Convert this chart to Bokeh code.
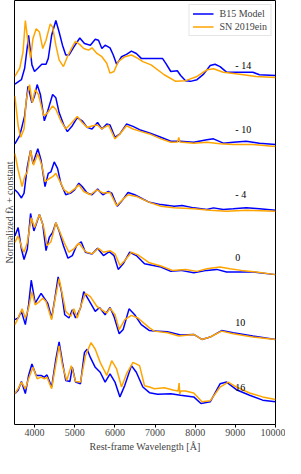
from bokeh.plotting import figure
from bokeh.models import Range1d, FixedTicker, Legend, LegendItem, ColumnDataSource
from bokeh.core.properties import value
from bokeh.embed import file_html
from bokeh.resources import INLINE

# ---------------- data (wavelength [A], normalized flux + constant) ----------------
epoch_labels = ["- 14", "- 10", "- 4", "0", "10", "16"]
label_wl = [9000, 9000, 9000, 9000, 9000, 9000]
label_y = [36.6, 30.1, 23.5, 17.1, 10.5, 4.0]

# epoch -14
m14_model_wl = [3510, 3672, 3753, 3819, 3851, 3934, 3998, 4081, 4179, 4285, 4341, 4425, 4530, 4611, 4695, 4776, 4856, 4979, 5126, 5242, 5389, 5511, 5592, 5676, 5757, 5879, 5960, 6043, 6166, 6289, 6412, 6534, 6657, 6902, 7185, 7268, 7393, 7555, 7638, 7760, 7883, 8045, 8210, 8374, 8495, 8619, 8781, 9110, 9436, 9600, 10000]
m14_model_fl = [34.73, 35.17, 36.33, 38.5, 39.67, 36.67, 36.0, 36.33, 36.73, 36.73, 37.33, 39.67, 41.17, 40.0, 38.67, 37.67, 37.67, 38.5, 39.4, 38.83, 38.67, 39.27, 39.17, 38.33, 38.67, 38.4, 37.67, 36.73, 37.5, 37.73, 38.07, 37.83, 37.33, 37.33, 37.33, 36.83, 36.0, 36.07, 35.6, 35.07, 35.0, 35.17, 35.73, 36.6, 36.73, 36.5, 35.93, 35.93, 35.93, 35.67, 35.6]
m14_sn_wl = [3510, 3630, 3713, 3770, 3836, 3900, 3959, 4040, 4121, 4204, 4285, 4390, 4449, 4530, 4611, 4719, 4817, 4940, 5021, 5143, 5224, 5347, 5430, 5553, 5676, 5798, 5879, 5977, 6083, 6247, 6412, 6574, 6696, 6902, 7228, 7515, 7760, 8045, 8291, 8455, 8700, 9110, 9517, 10000]
m14_sn_fl = [35.5, 36.33, 38.0, 41.17, 39.0, 37.33, 39.33, 40.33, 40.0, 38.33, 39.17, 40.83, 40.5, 38.67, 37.17, 36.5, 37.5, 38.5, 39.07, 38.67, 38.33, 38.17, 38.4, 37.83, 37.5, 36.83, 35.83, 36.0, 37.0, 37.5, 37.67, 37.33, 37.0, 36.67, 35.67, 35.0, 35.07, 35.5, 36.17, 36.27, 35.93, 35.73, 35.5, 35.4]

# epoch -10
m10_model_wl = [3510, 3630, 3753, 3836, 3934, 3998, 4064, 4145, 4243, 4327, 4449, 4530, 4611, 4734, 4817, 4940, 5063, 5185, 5308, 5430, 5568, 5676, 5798, 5879, 6002, 6125, 6289, 6451, 6615, 6861, 7146, 7393, 7638, 7964, 8291, 8455, 8700, 8946, 9272, 9600, 10000]
m10_model_fl = [28.67, 29.5, 31.5, 34.5, 32.83, 33.5, 34.67, 33.67, 31.0, 32.0, 33.67, 33.33, 31.83, 30.5, 29.9, 30.5, 31.33, 31.0, 30.33, 30.17, 30.83, 30.17, 30.67, 30.57, 29.33, 29.67, 30.67, 30.43, 30.1, 29.77, 29.33, 28.93, 28.93, 28.83, 29.07, 29.17, 28.73, 28.83, 28.93, 28.73, 28.6]
m10_sn_wl = [3510, 3591, 3655, 3738, 3794, 3875, 3942, 4015, 4096, 4229, 4327, 4449, 4530, 4653, 4776, 4898, 5063, 5185, 5308, 5455, 5568, 5676, 5838, 6002, 6125, 6289, 6451, 6657, 6861, 7146, 7393, 7560, 7590, 7620, 7964, 8291, 8619, 8946, 9436, 10000]
m10_sn_fl = [33.5, 30.5, 29.33, 30.17, 33.17, 34.67, 32.83, 34.17, 33.67, 31.5, 31.83, 32.5, 32.17, 31.0, 30.17, 30.67, 31.43, 30.83, 30.33, 30.5, 30.57, 30.17, 30.57, 29.17, 29.67, 30.5, 30.17, 29.9, 29.67, 29.17, 28.83, 28.85, 29.3, 28.85, 28.73, 28.83, 28.67, 28.6, 28.6, 28.4]

# epoch -4
m4_model_wl = [3510, 3591, 3672, 3738, 3819, 3900, 3959, 4081, 4162, 4260, 4341, 4408, 4489, 4572, 4653, 4776, 4898, 4996, 5102, 5185, 5308, 5430, 5568, 5700, 5838, 5921, 6058, 6166, 6328, 6493, 6696, 6861, 7146, 7474, 7677, 7964, 8291, 8455, 8700, 8946, 9272, 9600, 10000]
m4_model_fl = [24.0, 23.67, 23.17, 23.67, 26.33, 28.0, 26.67, 28.17, 27.0, 24.33, 25.67, 25.83, 26.83, 26.17, 24.67, 23.5, 23.67, 24.0, 24.67, 24.33, 23.67, 23.5, 24.07, 23.5, 23.83, 23.67, 22.33, 22.83, 23.73, 23.5, 23.07, 22.73, 22.5, 22.33, 22.4, 22.17, 22.0, 22.17, 22.0, 22.07, 22.17, 22.07, 21.93]
m4_sn_wl = [3510, 3591, 3689, 3753, 3819, 3900, 3973, 4081, 4179, 4260, 4341, 4449, 4530, 4636, 4734, 4856, 5021, 5102, 5224, 5389, 5553, 5715, 5879, 6043, 6191, 6328, 6534, 6861, 7146, 7474, 7964, 8374, 8781, 9272, 10000]
m4_sn_fl = [27.67, 26.0, 24.33, 25.33, 25.83, 28.0, 26.5, 27.67, 26.5, 24.83, 25.07, 25.33, 25.67, 24.83, 24.0, 23.67, 24.17, 24.5, 23.83, 23.5, 24.0, 23.67, 23.73, 22.4, 23.0, 23.5, 23.33, 22.73, 22.33, 22.17, 22.07, 21.93, 21.83, 21.93, 21.83]

# epoch 0
p0_model_wl = [3510, 3591, 3672, 3738, 3819, 3900, 3983, 4121, 4204, 4285, 4366, 4449, 4530, 4611, 4719, 4832, 4940, 5045, 5161, 5266, 5430, 5568, 5715, 5862, 5977, 6083, 6206, 6370, 6534, 6738, 7146, 7393, 7638, 7964, 8291, 8535, 8781, 9110, 9436, 10000]
p0_model_fl = [19.33, 20.17, 18.0, 16.93, 18.0, 21.6, 19.83, 21.5, 20.5, 17.83, 19.17, 19.67, 20.67, 19.83, 18.33, 17.07, 17.33, 18.33, 18.73, 17.67, 17.5, 18.07, 17.33, 17.73, 17.33, 15.93, 16.5, 17.67, 17.33, 16.5, 16.17, 15.73, 15.83, 15.6, 15.83, 15.93, 15.67, 15.67, 15.67, 15.4]
p0_sn_wl = [3510, 3591, 3689, 3738, 3819, 3917, 3998, 4121, 4229, 4309, 4408, 4530, 4636, 4734, 4856, 4979, 5102, 5266, 5430, 5592, 5715, 5879, 6002, 6125, 6247, 6412, 6574, 6861, 7146, 7432, 7760, 8045, 8291, 8619, 8864, 9149, 9517, 10000]
p0_sn_fl = [18.67, 19.33, 18.07, 17.67, 18.67, 21.17, 20.17, 21.5, 20.17, 18.33, 18.73, 20.67, 19.67, 18.67, 17.67, 18.0, 18.6, 17.73, 17.5, 18.07, 17.67, 17.83, 17.5, 16.33, 16.83, 17.67, 17.4, 16.6, 16.27, 15.83, 15.93, 15.73, 16.0, 16.17, 16.0, 15.83, 15.67, 15.4]

# epoch +10
p10_model_wl = [3510, 3591, 3672, 3770, 3851, 3917, 4015, 4162, 4243, 4327, 4425, 4506, 4587, 4670, 4751, 4856, 4940, 5021, 5143, 5224, 5347, 5511, 5617, 5757, 5879, 5977, 6107, 6206, 6353, 6493, 6657, 6861, 6983, 7309, 7638, 7964, 8168, 8374, 8658, 8946, 9436, 10000]
p10_model_fl = [10.83, 11.0, 11.67, 10.33, 12.33, 14.83, 12.5, 13.5, 13.0, 12.5, 11.0, 13.0, 15.17, 13.67, 11.33, 11.0, 11.83, 11.0, 12.0, 13.67, 12.83, 11.67, 12.07, 11.33, 12.07, 11.17, 9.4, 9.83, 11.93, 11.33, 10.33, 9.73, 9.67, 9.6, 9.27, 9.33, 8.83, 9.07, 9.73, 9.5, 9.17, 8.83]
p10_sn_wl = [3510, 3591, 3689, 3770, 3851, 3934, 4015, 4121, 4204, 4285, 4425, 4506, 4611, 4695, 4776, 4898, 4979, 5063, 5161, 5266, 5389, 5553, 5676, 5798, 5879, 6002, 6107, 6247, 6412, 6574, 6861, 6983, 7309, 7596, 7964, 8168, 8374, 8658, 8946, 9436, 10000]
p10_sn_fl = [10.33, 11.0, 11.93, 11.0, 12.0, 13.67, 12.33, 12.67, 13.0, 12.67, 10.83, 12.83, 15.0, 13.33, 11.67, 11.17, 11.93, 11.0, 12.33, 13.5, 13.17, 12.17, 11.83, 11.5, 12.0, 11.33, 9.83, 10.83, 11.27, 11.0, 10.0, 9.67, 9.5, 9.17, 9.33, 8.83, 9.07, 9.67, 9.4, 9.07, 8.83]

# epoch +16
p16_model_wl = [3510, 3591, 3672, 3770, 3851, 3934, 4040, 4162, 4243, 4309, 4425, 4530, 4611, 4695, 4776, 4881, 4940, 5021, 5143, 5242, 5308, 5389, 5511, 5634, 5757, 5879, 6002, 6125, 6247, 6412, 6534, 6696, 6861, 7064, 7393, 7638, 7964, 8143, 8374, 8619, 8781, 9027, 9355, 9681, 10000]
p16_model_fl = [3.33, 3.67, 4.57, 3.33, 5.17, 6.33, 5.17, 5.17, 5.0, 5.23, 4.0, 6.83, 8.57, 6.5, 4.67, 4.57, 6.0, 4.5, 4.33, 7.5, 7.83, 7.0, 6.0, 5.5, 4.5, 5.33, 4.5, 3.0, 4.17, 6.17, 5.5, 4.0, 3.43, 3.27, 3.33, 3.17, 3.0, 2.33, 2.5, 4.33, 4.5, 3.73, 3.17, 2.67, 2.5]
p16_sn_wl = [3510, 3591, 3672, 3770, 3851, 3959, 4064, 4162, 4243, 4309, 4425, 4530, 4611, 4695, 4800, 4915, 5021, 5143, 5266, 5406, 5511, 5634, 5798, 5921, 6043, 6166, 6289, 6451, 6615, 6738, 6861, 6983, 7228, 7474, 7575, 7600, 7615, 7640, 7760, 7964, 8168, 8374, 8619, 8823, 9027, 9355, 9681, 10000]
p16_sn_fl = [3.33, 3.83, 4.5, 3.83, 4.83, 6.0, 4.83, 5.0, 4.83, 5.0, 3.83, 6.33, 8.17, 6.17, 4.67, 6.17, 4.57, 4.5, 7.17, 8.5, 7.83, 6.5, 5.17, 6.67, 5.83, 4.0, 5.33, 6.5, 6.17, 4.13, 4.0, 3.83, 3.93, 3.67, 3.6, 4.4, 3.3, 3.6, 3.6, 3.4, 2.5, 2.6, 4.0, 4.5, 4.0, 3.4, 3.0, 2.73]

model_series = [(m14_model_wl, m14_model_fl), (m10_model_wl, m10_model_fl), (m4_model_wl, m4_model_fl),
                (p0_model_wl, p0_model_fl), (p10_model_wl, p10_model_fl), (p16_model_wl, p16_model_fl)]
sn_series = [(m14_sn_wl, m14_sn_fl), (m10_sn_wl, m10_sn_fl), (m4_sn_wl, m4_sn_fl),
             (p0_sn_wl, p0_sn_fl), (p10_sn_wl, p10_sn_fl), (p16_sn_wl, p16_sn_fl)]

FONT = "Liberation Serif"
BLUE = "#0000ff"
ORANGE = "#ffa500"

p = figure(width=285, height=454, output_backend="svg", toolbar_location=None,
           x_range=Range1d(3500, 10000), y_range=Range1d(0.2, 43.2),
           min_border_left=10, min_border_right=10, min_border_top=0, min_border_bottom=0)
p.grid.visible = False
p.outline_line_color = "black"
p.outline_line_width = 1
p.background_fill_color = "white"
p.border_fill_color = "white"

model_renderers = []
sn_renderers = []
for (wl, fl) in model_series:
    model_renderers.append(p.line(wl, fl, line_color=BLUE, line_width=1.5))
for (wl, fl) in sn_series:
    sn_renderers.append(p.line(wl, fl, line_color=ORANGE, line_width=1.5))

src = ColumnDataSource(dict(x=label_wl, y=label_y, t=epoch_labels))
p.text(x="x", y="y", text="t", source=src, text_font=value(FONT), text_font_size="10px",
       text_align="left", text_baseline="middle", text_color="black")

# axes
xa = p.xaxis[0]
xa.ticker = FixedTicker(ticks=[4000, 5000, 6000, 7000, 8000, 9000, 10000])
xa.axis_label = "Rest-frame Wavelength [Å]"
xa.axis_label_text_font = FONT
xa.axis_label_text_font_style = "normal"
xa.axis_label_text_font_size = "10px"
xa.axis_label_text_line_height = 1.0
xa.axis_label_standoff = 2
xa.major_label_text_font = FONT
xa.major_label_text_font_size = "10px"
xa.major_label_text_line_height = 1.0
xa.major_label_standoff = 1
xa.major_tick_in = 0
xa.major_tick_out = 3
xa.minor_tick_out = 0
xa.minor_tick_in = 0
xa.axis_line_color = None

ya = p.yaxis[0]
ya.ticker = FixedTicker(ticks=[])
ya.axis_label = "Normalized fλ + constant"
ya.axis_label_text_font = FONT
ya.axis_label_text_font_style = "normal"
ya.axis_label_text_font_size = "10px"
ya.axis_label_standoff = 0
ya.major_label_text_font_size = "0px"
ya.major_tick_in = 0
ya.major_tick_out = 0
ya.minor_tick_out = 0
ya.minor_tick_in = 0
ya.axis_line_color = None

legend = Legend(items=[LegendItem(label="B15 Model", renderers=[model_renderers[0]]),
                       LegendItem(label="SN 2019ein", renderers=[sn_renderers[0]])],
                location="top_right", margin=4, padding=3, spacing=2,
                glyph_width=21, glyph_height=11, label_standoff=6,
                label_text_font=FONT, label_text_font_size="10px",
                label_height=11,
                border_line_color="#cccccc", border_line_width=1,
                background_fill_color="white", background_fill_alpha=0.8)
p.add_layout(legend)

open("out.html", "w").write(file_html(p, INLINE))
